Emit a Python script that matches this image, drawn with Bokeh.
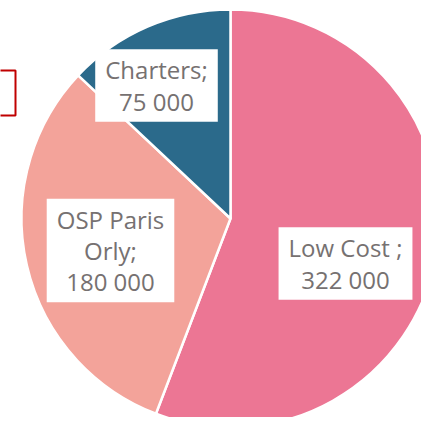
import numpy as np
from bokeh.plotting import figure
from bokeh.models import Range1d, Label, ColumnDataSource
from bokeh.embed import file_html
from bokeh.resources import INLINE

# Data
categories = ["Low Cost", "OSP Paris Orly", "Charters"]
values = [322000, 180000, 75000]
label_texts = ["Low Cost ;\n322 000", "OSP Paris\nOrly;\n180 000", "Charters;\n75 000"]
colors = ["#EC7694", "#F3A39A", "#2B6A8B"]

W, H = 429, 425
PW, PH = 421, 417
p = figure(width=PW, height=PH, output_backend="svg", toolbar_location=None,
           x_range=Range1d(0, PW), y_range=Range1d(H - PH, H),
           min_border=0, outline_line_color=None)
p.axis.visible = False
p.grid.visible = False
p.background_fill_color = "white"
p.border_fill_color = "white"

vals = np.array(values, dtype=float)
frac = vals / vals.sum()
cum = np.concatenate([[0], np.cumsum(frac)])
start = np.pi / 2 - 2 * np.pi * cum[:-1]
end = np.pi / 2 - 2 * np.pi * cum[1:]

cx, cy, r = 230, H - 218, 209
src = ColumnDataSource(dict(start=start, end=end, color=colors, cat=categories))
p.wedge(x=cx, y=cy, radius=r, start_angle="start", end_angle="end", direction="clock",
        fill_color="color", line_color="white", line_width=2.5, source=src)

# red frame partially visible at left
p.quad(left=-10, right=15, top=H - 70, bottom=H - 115, fill_color=None,
       line_color="#C00000", line_width=2)

label_pos = [(156, H - 85), (110, H - 250), (345, H - 263)]
label_pos = [label_pos[2], label_pos[1], label_pos[0]]
for (lx, ly), t in zip(label_pos, label_texts):
    p.add_layout(Label(x=lx, y=ly, text=t, text_align="center", text_baseline="middle",
                       text_font="Open Sans", text_font_size="24px", text_color="#767171",
                       text_line_height=0.95,
                       background_fill_color="white", padding=(10, 4)))

open("out.html", "w").write(file_html(p, INLINE))
